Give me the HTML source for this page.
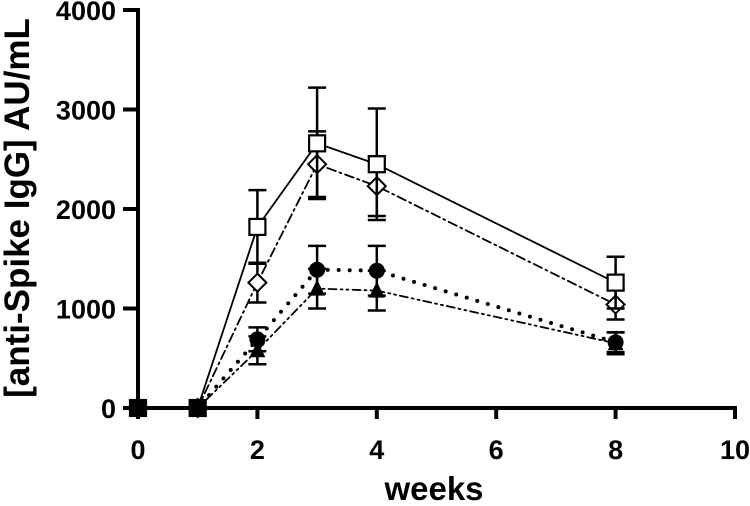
<!DOCTYPE html>
<html><head><meta charset="utf-8"><style>
body{margin:0;background:#fff;}
svg{display:block;font-family:"Liberation Sans",sans-serif;}
</style></head><body>
<svg id="chart" width="750" height="506"></svg>
<script>
const xs=[0,1,2,3,4,8];
const squareVals=[0,0,1820,2660,2450,1260];
const squareErr=[0,0,370,560,560,260];
const diamondVals=[0,0,1260,2450,2230,1040];
const diamondErr=[0,0,200,330,300,150];
const circleVals=[0,0,690,1390,1380,660];
const circleErr=[0,0,120,240,250,100];
const triVals=[0,0,580,1200,1180,650];
const triErr=[0,0,140,200,200,110];
const xTicks=[0,2,4,6,8,10];
const yTicks=[0,1000,2000,3000,4000];
const NS="http://www.w3.org/2000/svg";
const svg=document.getElementById('chart');
const X=v=>138+v*59.7, Y=v=>408-v*0.0995;
function mk(t,a,p){const e=document.createElementNS(NS,t);for(const k in a)e.setAttribute(k,a[k]);(p||svg).appendChild(e);return e;}
const ax=mk('g',{});


mk('line',{x1:X(0),y1:Y(0),x2:X(10)+2,y2:Y(0),stroke:'#000','stroke-width':4},ax);
mk('line',{x1:X(0),y1:Y(0)+2,x2:X(0),y2:Y(4000)-2,stroke:'#000','stroke-width':4},ax);
xTicks.forEach(t=>{mk('line',{x1:X(t),y1:Y(0),x2:X(t),y2:Y(0)+11,stroke:'#000','stroke-width':4},ax);
const tx=mk('text',{x:X(t),y:459,'text-anchor':'middle','font-size':27,'font-weight':'bold'},ax);tx.textContent=t;

});
yTicks.forEach(t=>{mk('line',{x1:X(0)-15,y1:Y(t),x2:X(0),y2:Y(t),stroke:'#000','stroke-width':4},ax);
const tx=mk('text',{x:116,y:Y(t)+10,'text-anchor':'end','font-size':27,'font-weight':'bold'},ax);tx.textContent=t;

});
const xt=mk('text',{x:434,y:500,'text-anchor':'middle','font-size':33,'font-weight':'bold'});xt.textContent='weeks';


const yt=mk('text',{x:0,y:0,'text-anchor':'middle','font-size':35,'font-weight':'bold',transform:'translate(29,208) rotate(-90)'});yt.textContent='[anti-Spike IgG] AU/mL';


function series(name,vals,err,dash,marker){
const g=mk('g',{});


mk('polyline',{points:xs.map((x,i)=>X(x)+','+Y(vals[i])).join(' '),fill:'none',stroke:'#000','stroke-width':dash==='dot'?4:1.8,'stroke-dasharray':dash==='dot'?'0 11':dash,'stroke-linecap':'round'},g);
xs.forEach((x,i)=>{
if(err[i]>0){const cx=X(x),t=Y(vals[i]+err[i]),b=Y(vals[i]-err[i]);
mk('line',{x1:cx,y1:t,x2:cx,y2:b,stroke:'#000','stroke-width':2.5},g);
mk('line',{x1:cx-9,y1:t,x2:cx+9,y2:t,stroke:'#000','stroke-width':2.5},g);
mk('line',{x1:cx-9,y1:b,x2:cx+9,y2:b,stroke:'#000','stroke-width':2.5},g);}
const m=marker(X(x),Y(vals[i]),g,vals[i]===0);


});}
const sq=(cx,cy,g,z)=>mk('rect',{x:cx-8,y:cy-8,width:16,height:16,fill:z?'#000':'#fff',stroke:'#000','stroke-width':2.2},g);
const dm=(cx,cy,g,z)=>mk('polygon',{points:`${cx},${cy-9} ${cx+9},${cy} ${cx},${cy+9} ${cx-9},${cy}`,fill:z?'#000':'#fff',stroke:'#000','stroke-width':2},g);
const ci=(cx,cy,g)=>mk('circle',{cx:cx,cy:cy,r:8,fill:'#000'},g);
const tr=(cx,cy,g)=>mk('polygon',{points:`${cx},${cy-9} ${cx+8},${cy+7} ${cx-8},${cy+7}`,fill:'#000'},g);
series('triangle-series',triVals,triErr,'8 4 2 4 2 4',tr);
series('circle-series',circleVals,circleErr,'dot',ci);
series('diamond-series',diamondVals,diamondErr,'9 4 2 4',dm);
series('square-series',squareVals,squareErr,'',sq);
</script>
</body></html>
